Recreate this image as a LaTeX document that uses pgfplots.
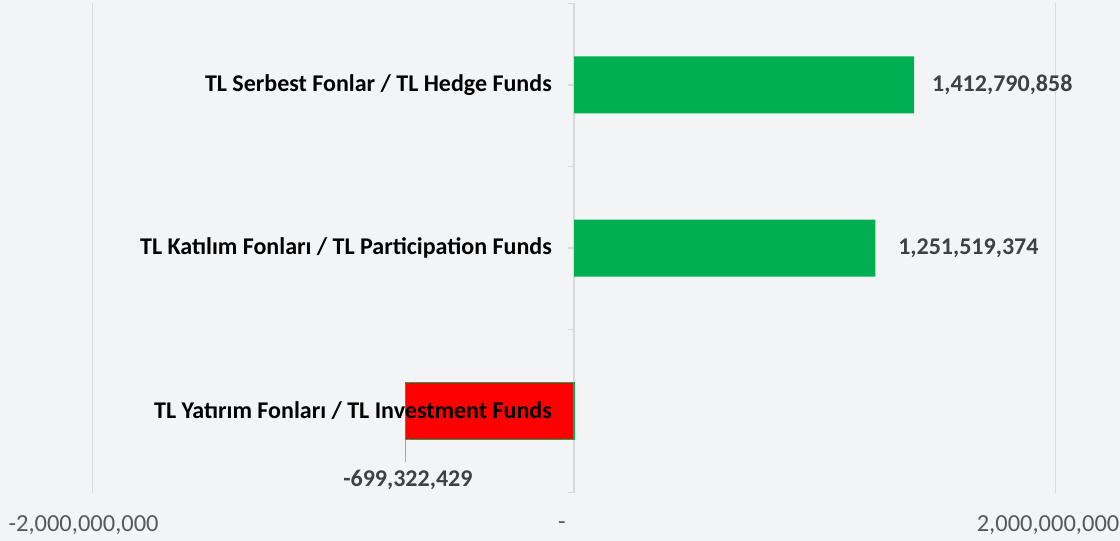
\documentclass[border=0pt]{standalone}
\usepackage{fontspec}
\setmainfont{Carlito}
\usepackage{pgfplots}
\pgfplotsset{compat=1.18}
\definecolor{barGreen}{HTML}{00B050}
\definecolor{barRed}{HTML}{FF0000}
\definecolor{lblGray}{HTML}{404040}
\definecolor{tickGray}{HTML}{595959}
\definecolor{gridGray}{HTML}{D9D9D9}
\definecolor{bgGray}{HTML}{F3F4F5}

\begin{document}
\begin{tikzpicture}[
    catlbl/.style={anchor=east, inner sep=0pt, font=\bfseries\fontsize{24}{28}\selectfont},
    vallbl/.style={anchor=west, inner sep=0pt, text=lblGray, font=\bfseries\fontsize{24}{28}\selectfont},
    ticklbl/.style={inner sep=0pt, text=tickGray, font=\fontsize{24.5}{28}\selectfont},
]
\begin{axis}[
    scale only axis,
    width=1120pt, height=541pt,
    xmin=-2.3842e9, xmax=2.2679e9,
    ymin=-0.7975, ymax=2.5215,
    axis lines=none,
    axis background/.style={fill=bgGray},
    clip=false,
]
% gridlines and category axis
\draw[gridGray, line width=1.2pt] (axis cs:-2e9,-0.5) -- (axis cs:-2e9,2.5);
\draw[gridGray, line width=1.2pt] (axis cs:2e9,-0.5) -- (axis cs:2e9,2.5);
\draw[gridGray, line width=1.2pt] (axis cs:0,-0.5) -- (axis cs:0,2.5);
\pgfplotsinvokeforeach{-0.5,0,0.5,1,1.5,2,2.5}{
  \draw[gridGray, line width=1.2pt] (axis cs:0,#1) -- (axis cs:-0.025e9,#1);
}

\addplot[xbar, bar width=57pt, fill=barGreen, draw=none, bar shift=0pt]
  coordinates {(1412790858,2) (1251519374,1)};
\addplot[xbar, bar width=57pt, fill=barRed, draw=barGreen, line width=1.2pt, bar shift=0pt]
  coordinates {(-699322429,0)};

% value labels
\node[vallbl] at (axis cs:1.487e9,2) {1,412,790,858};
\node[vallbl] at (axis cs:1.346e9,1) {1,251,519,374};
\draw[gray!70, line width=1pt] (axis cs:-699322429,-0.175) -- (axis cs:-699322429,-0.31);
\node[vallbl, anchor=center] at (axis cs:-0.69e9,-0.424) {-699,322,429};

% category labels
\node[catlbl] at (axis cs:-0.0914e9,2) {TL Serbest Fonlar / TL Hedge Funds};
\node[catlbl] at (axis cs:-0.0914e9,1) {TL Katılım Fonları / TL Participation Funds};
\node[catlbl] at (axis cs:-0.0914e9,0) {TL Yatırım Fonları / TL Investment Funds};

% value axis labels
\node[ticklbl] at (axis cs:-2.037e9,-0.70) {-2,000,000,000};
\node[ticklbl] at (axis cs:-0.05e9,-0.70) {-};
\node[ticklbl] at (axis cs:1.969e9,-0.70) {2,000,000,000};
\end{axis}
\end{tikzpicture}
\end{document}
